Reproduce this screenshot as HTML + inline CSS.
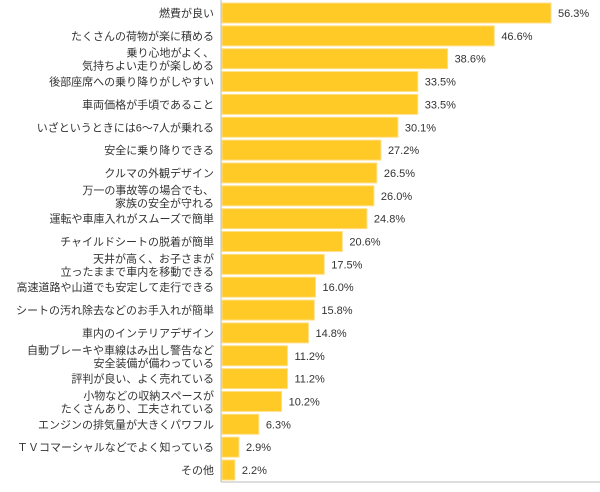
<!DOCTYPE html>
<html><head><meta charset="utf-8">
<style>
body{margin:0;background:#fff;}
svg text{font-family:"Liberation Sans","Noto Sans CJK JP",sans-serif;font-size:11px;fill:#333;}
</style></head><body>
<svg id="chart" width="600" height="487" xmlns="http://www.w3.org/2000/svg"></svg>
<script>
const categories=[["燃費が良い"],["たくさんの荷物が楽に積める"],["乗り心地がよく、","気持ちよい走りが楽しめる"],["後部座席への乗り降りがしやすい"],["車両価格が手頃であること"],["いざというときには6～7人が乗れる"],["安全に乗り降りできる"],["クルマの外観デザイン"],["万一の事故等の場合でも、","家族の安全が守れる"],["運転や車庫入れがスムーズで簡単"],["チャイルドシートの脱着が簡単"],["天井が高く、お子さまが","立ったままで車内を移動できる"],["高速道路や山道でも安定して走行できる"],["シートの汚れ除去などのお手入れが簡単"],["車内のインテリアデザイン"],["自動ブレーキや車線はみ出し警告など","安全装備が備わっている"],["評判が良い、よく売れている"],["小物などの収納スペースが","たくさんあり、工夫されている"],["エンジンの排気量が大きくパワフル"],["ＴＶコマーシャルなどでよく知っている"],["その他"]];
const values=[56.3,46.6,38.6,33.5,33.5,30.1,27.2,26.5,26.0,24.8,20.6,17.5,16.0,15.8,14.8,11.2,11.2,10.2,6.3,2.9,2.2];
const NS="http://www.w3.org/2000/svg";
const svg=document.getElementById('chart');
const x0=222, pxPer=(551-222)/56.3;
const xs=v=>x0+v*pxPer;
const ys=i=>3+i*22.85;
function mk(t,a){const e=document.createElementNS(NS,t);for(const k in a)e.setAttribute(k,a[k]);svg.appendChild(e);return e;}
values.forEach((v,i)=>{
  const y=ys(i);
  const r=mk('rect',{x:x0,y:y,width:xs(v)-x0,height:20,fill:'#FFC926',stroke:'#FFE08A','stroke-width':1});
  
  
  const t=mk('text',{x:xs(v)+7,y:y+14});
  t.textContent=v.toFixed(1)+'%';
  
  
  const lines=categories[i];
  lines.forEach((ln,j)=>{
    const yy=lines.length===1?y+14:y+8+j*13;
    const c=mk('text',{x:214,y:yy,'text-anchor':'end'});
    c.textContent=ln;
    
    
  });
});
const ax=mk('line',{x1:221,y1:0,x2:221,y2:482,stroke:'#bbb','stroke-width':1});


const bx=mk('line',{x1:221,y1:482,x2:600,y2:482,stroke:'#bbb','stroke-width':1});


</script>
</body></html>
